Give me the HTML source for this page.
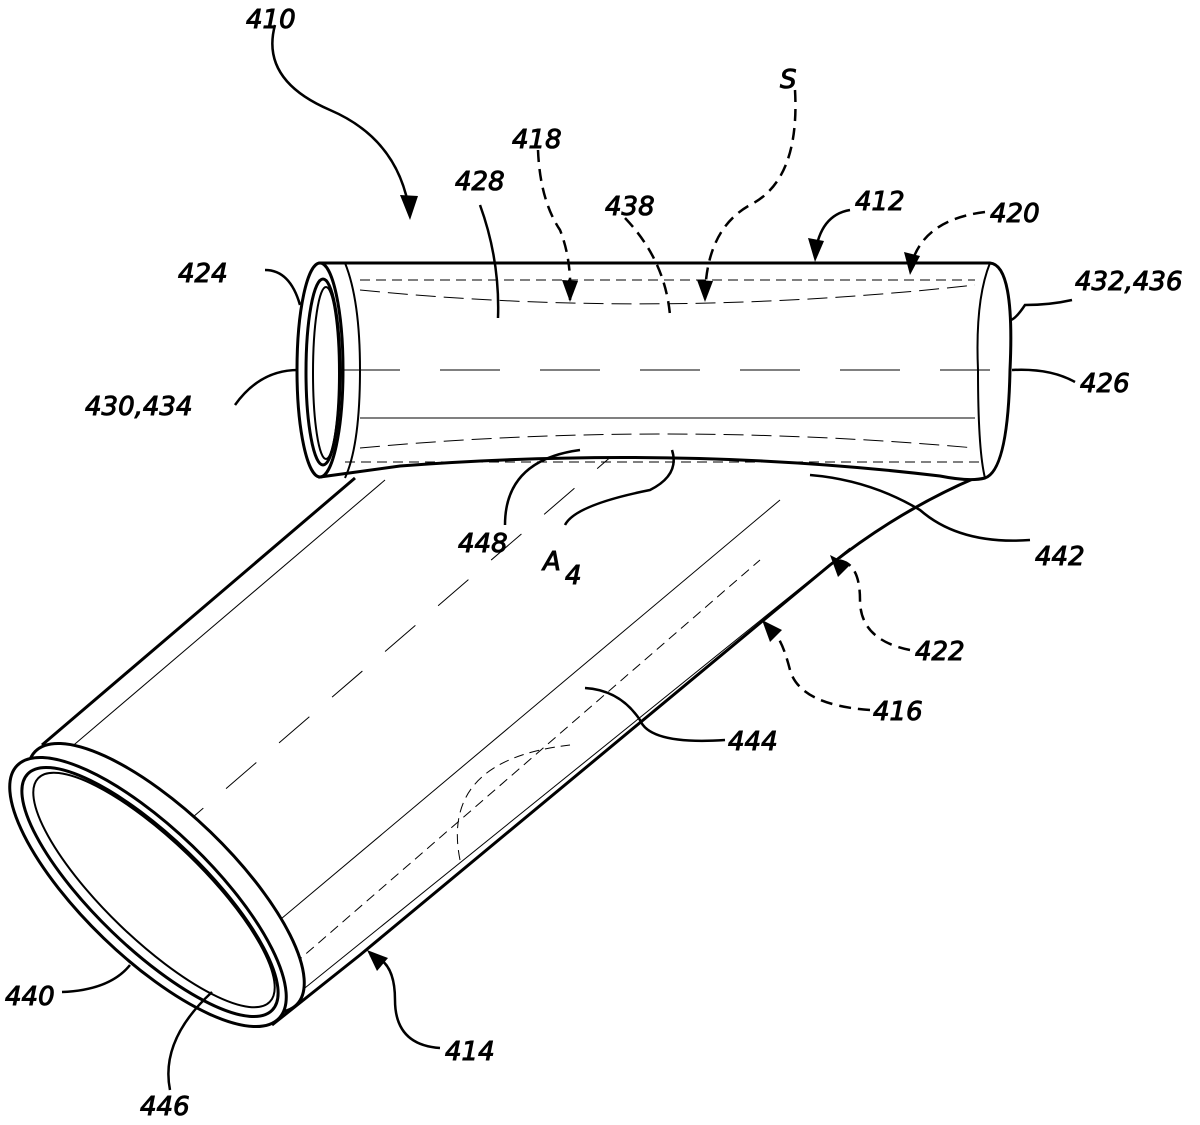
<!DOCTYPE html>
<html><head><style>body{margin:0;background:#fff}svg{display:block}text{font-family:"DejaVu Sans","Liberation Sans",sans-serif;font-style:italic;font-size:26px;fill:#000}</style></head>
<body>
<svg width="1200" height="1125" viewBox="0 0 1200 1125" xmlns="http://www.w3.org/2000/svg" fill="none" stroke="#000">
<!-- lower tube -->
<path d="M42 745 L355 478" stroke-width="3"/>
<path d="M272 1025 L360 955 L830 565 Q900 510 975 478" stroke-width="3"/>
<path d="M290 1000 L850 548" stroke-width="1"/>
<path d="M62 755 L385 480" stroke-width="1"/>
<path d="M250 945 L780 500" stroke-width="1"/>
<path d="M120 880 L700 380" stroke-width="1" stroke-dasharray="40 30"/>
<path d="M270 985 L760 560" stroke-width="1" stroke-dasharray="10 6"/>
<path d="M460 860 Q440 760 570 745" stroke-width="1" stroke-dasharray="10 6"/>
<!-- end ellipses -->
<ellipse cx="166" cy="878" rx="182" ry="64" transform="rotate(44 166 878)" fill="#fff" stroke-width="3"/>
<ellipse cx="148" cy="892" rx="182" ry="64" transform="rotate(44 148 892)" fill="#fff" stroke-width="3"/>
<ellipse cx="150" cy="892" rx="170" ry="55" transform="rotate(44 150 892)" stroke-width="3"/>
<ellipse cx="154" cy="890" rx="161" ry="49" transform="rotate(44 154 890)" stroke-width="2"/>
<!-- upper tube -->
<path d="M320 263 L990 263 Q1015 265 1010 370 Q1008 470 985 478 Q970 482 940 476 Q680 445 400 466 L320 477 Z" fill="#fff" stroke-width="3"/>
<path d="M990 263 Q975 300 978 370 Q978 450 985 478" stroke-width="2"/>
<path d="M345 263 Q360 300 360 370 Q360 445 345 478" stroke-width="2"/>
<ellipse cx="320" cy="370" rx="23" ry="107" fill="#fff" stroke-width="3"/>
<ellipse cx="323" cy="372" rx="17" ry="93" stroke-width="3"/>
<ellipse cx="326" cy="373" rx="13" ry="86" stroke-width="2"/>
<path d="M340 370 L990 370" stroke-width="1" stroke-dasharray="60 40"/>
<path d="M360 280 L975 280" stroke-width="1" stroke-dasharray="10 6"/>
<path d="M360 290 Q660 320 975 285" stroke-width="1" stroke-dasharray="20 8"/>
<path d="M360 418 L975 418" stroke-width="1"/>
<path d="M360 448 Q660 420 975 448" stroke-width="1" stroke-dasharray="20 8"/>
<path d="M345 462 L985 462" stroke-width="1" stroke-dasharray="10 6"/>
<!-- leaders -->
<g stroke-width="2.5">
<path d="M275 25 Q260 80 330 110 Q400 140 410 215"/>
<path d="M265 270 Q290 270 300 305"/>
<path d="M235 405 Q260 370 298 370"/>
<path d="M480 205 Q500 260 498 318"/>
<path d="M538 150 Q540 200 560 230 Q572 260 570 300" stroke-dasharray="12 7"/>
<path d="M625 218 Q665 260 670 315" stroke-dasharray="12 7"/>
<path d="M795 90 Q800 180 750 205 Q705 230 705 300" stroke-dasharray="12 7"/>
<path d="M850 210 Q820 215 815 255"/>
<path d="M985 212 Q920 220 910 270" stroke-dasharray="12 7"/>
<path d="M1072 300 Q1050 305 1025 305 Q1015 320 1010 320"/>
<path d="M1075 382 Q1050 368 1012 370"/>
<path d="M505 525 Q505 460 580 450"/>
<path d="M565 525 Q575 505 650 490 Q680 475 672 450"/>
<path d="M1030 540 Q960 545 920 510 Q870 480 810 475"/>
<path d="M910 650 Q860 640 860 600 Q860 560 835 560" stroke-dasharray="12 7"/>
<path d="M870 710 Q800 705 790 670 Q780 630 765 625" stroke-dasharray="12 7"/>
<path d="M725 740 Q650 745 640 720 Q620 690 585 688"/>
<path d="M440 1048 Q395 1045 395 1000 Q395 960 370 955"/>
<path d="M62 992 Q110 990 130 965"/>
<path d="M170 1090 Q160 1040 212 992"/>
</g>
<g fill="#000" stroke="none">
<path d="M410 220 L400 195 L418 196 Z"/>
<path d="M570 302 L562 280 L578 281 Z"/>
<path d="M705 302 L697 280 L713 281 Z"/>
<path d="M815 262 L808 238 L824 241 Z"/>
<path d="M910 275 L904 252 L920 256 Z"/>
<path d="M830 555 L850 565 L838 577 Z"/>
<path d="M762 620 L782 630 L770 642 Z"/>
<path d="M367 950 L388 958 L377 971 Z"/>
</g>
<g>
<text x="246" y="28">410</text>
<text x="512" y="148">418</text>
<text x="780" y="88">S</text>
<text x="455" y="190">428</text>
<text x="605" y="215">438</text>
<text x="855" y="210">412</text>
<text x="990" y="222">420</text>
<text x="178" y="282">424</text>
<text x="1075" y="290">432,436</text>
<text x="85" y="415">430,434</text>
<text x="1080" y="392">426</text>
<text x="458" y="552">448</text>
<text x="543" y="570">A</text><text x="565" y="584">4</text>
<text x="1035" y="565">442</text>
<text x="915" y="660">422</text>
<text x="873" y="720">416</text>
<text x="728" y="750">444</text>
<text x="5" y="1005">440</text>
<text x="445" y="1060">414</text>
<text x="140" y="1115">446</text>
</g>
</svg>
</body></html>
